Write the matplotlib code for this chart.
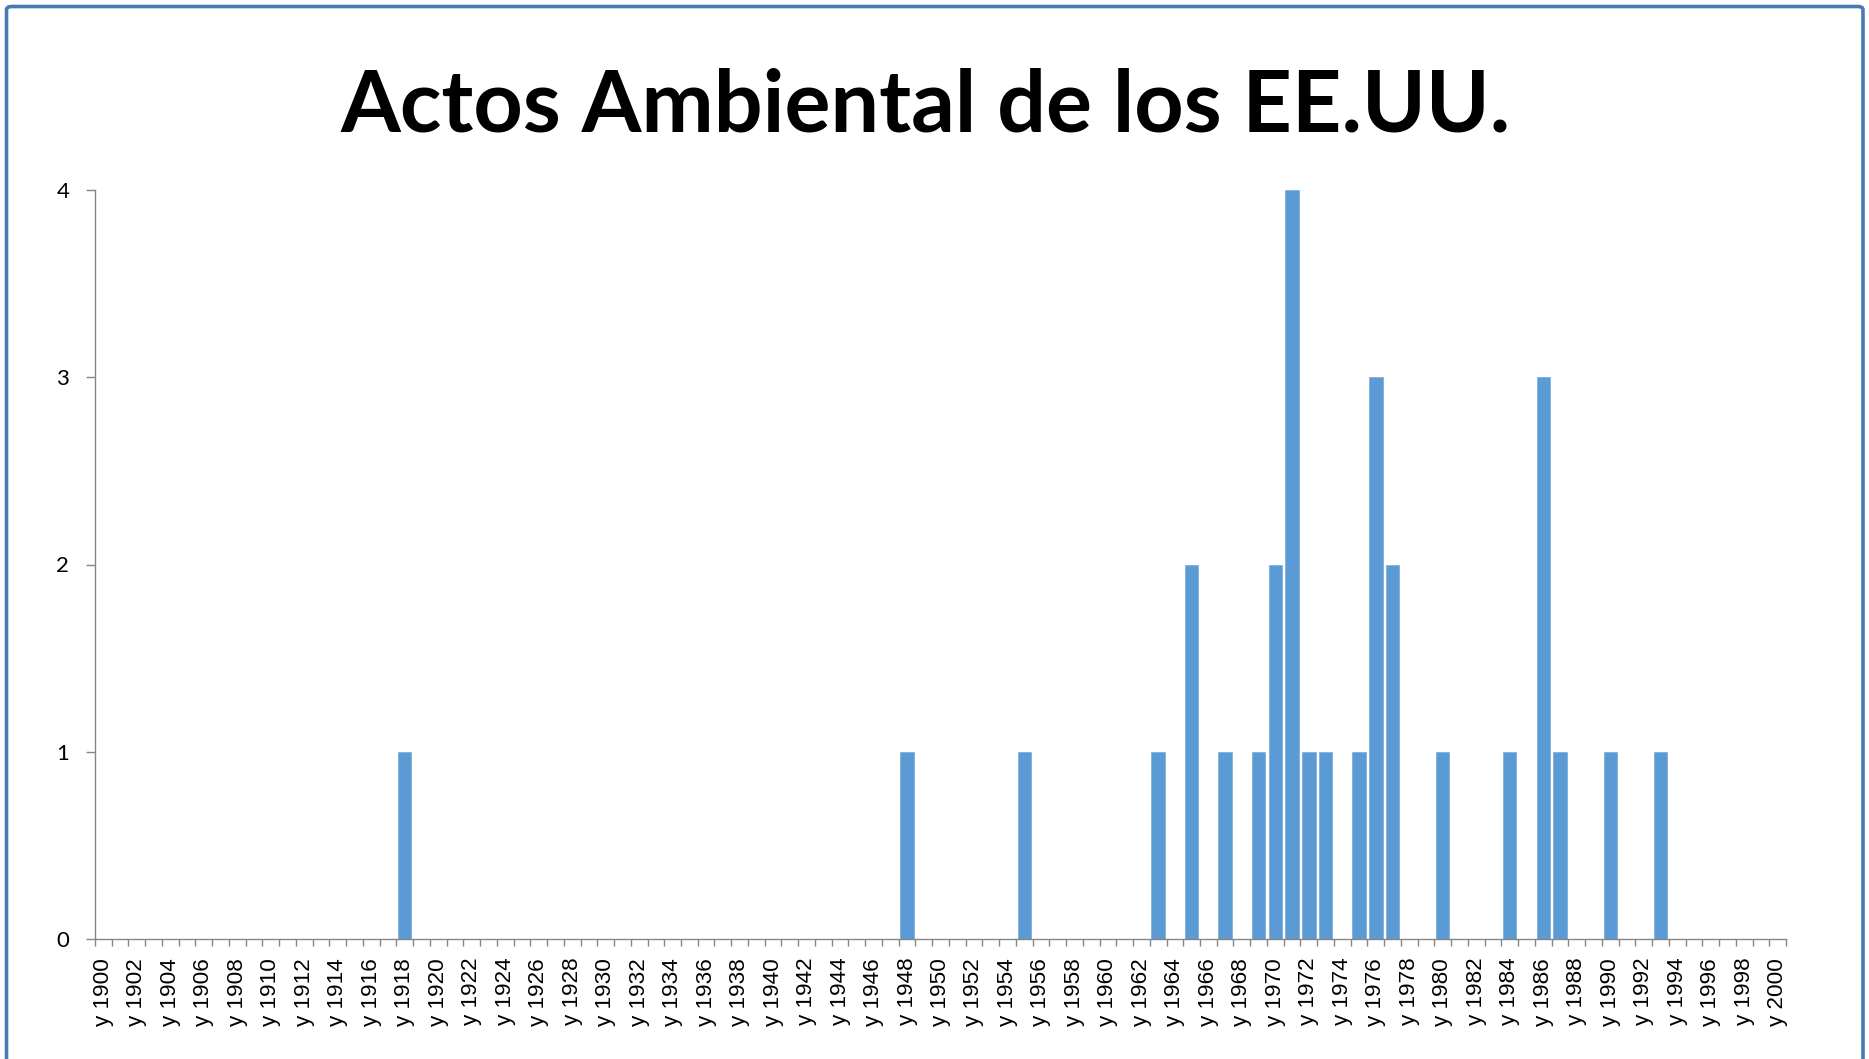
import matplotlib
matplotlib.use("Agg")
import matplotlib.pyplot as plt
from matplotlib.patches import FancyBboxPatch

# categories: every year from 1900 to 2000
years = list(range(1900, 2001))
year_labels = [f"y {y}" for y in years]

# years with at least one act, and the count of acts in that year
act_years = [1918, 1948, 1955, 1963, 1965, 1967, 1969, 1970, 1971, 1972,
             1973, 1975, 1976, 1977, 1980, 1984, 1986, 1987, 1990, 1993]
act_counts = [1, 1, 1, 1, 2, 1, 1, 2, 4, 1,
              1, 1, 3, 2, 1, 1, 3, 1, 1, 1]

counts = dict(zip(act_years, act_counts))
values = [counts.get(y, 0) for y in years]

W, H = 1869, 1059
DPI = 100
fig = plt.figure(figsize=(W / DPI, H / DPI), dpi=DPI)
fig.patch.set_facecolor("white")

# plot area in pixels
x0, x1 = 95, 1786
y_top, y_base = 190, 939
ax = fig.add_axes([x0 / W, 1 - y_base / H, (x1 - x0) / W, (y_base - y_top) / H])

pos = list(range(len(years)))
ax.bar(pos, values, width=0.8, color="#5b9bd5", edgecolor="#7fb0de", linewidth=0.6)

axis_grey = "#868686"
ax.set_xlim(-0.5, len(years) - 0.5)
ax.set_ylim(0, 4)
ax.set_yticks([0, 1, 2, 3, 4])
ax.set_yticklabels(["0", "1", "2", "3", "4"], fontfamily="Lato", fontsize=16)

ax.set_xticks(pos[::2])
ax.set_xticklabels(year_labels[::2], rotation=90, fontfamily="Liberation Sans",
                   fontsize=16.2, va="top", ha="center")
ax.set_xticks([p - 0.5 for p in pos] + [pos[-1] + 0.5], minor=True)

ax.tick_params(axis="x", which="major", length=0, pad=13.5)
ax.tick_params(axis="x", which="minor", length=5, width=1.0, color=axis_grey, direction="out")
ax.tick_params(axis="y", length=6.5, width=1.0, color=axis_grey, pad=12)

for side in ["top", "right"]:
    ax.spines[side].set_visible(False)
for side in ["left", "bottom"]:
    ax.spines[side].set_color(axis_grey)
    ax.spines[side].set_linewidth(1.0)

fig.text(926 / W, 1 - 131.7 / H, "Actos Ambiental de los EE.UU.",
         fontfamily="Lato", fontweight="bold", fontsize=62,
         ha="center", va="baseline")

# chart area border (bottom edge runs off the picture)
border = FancyBboxPatch((6.5 / W, -0.02), (1863 - 6.5) / W, 1 - 6.5 / H + 0.02,
                        boxstyle="round,pad=0,rounding_size=0.003",
                        transform=fig.transFigure, fill=False,
                        edgecolor="#4a7ab3", linewidth=2.6)
fig.patches.append(border)

fig.savefig("out.png", dpi=DPI)
